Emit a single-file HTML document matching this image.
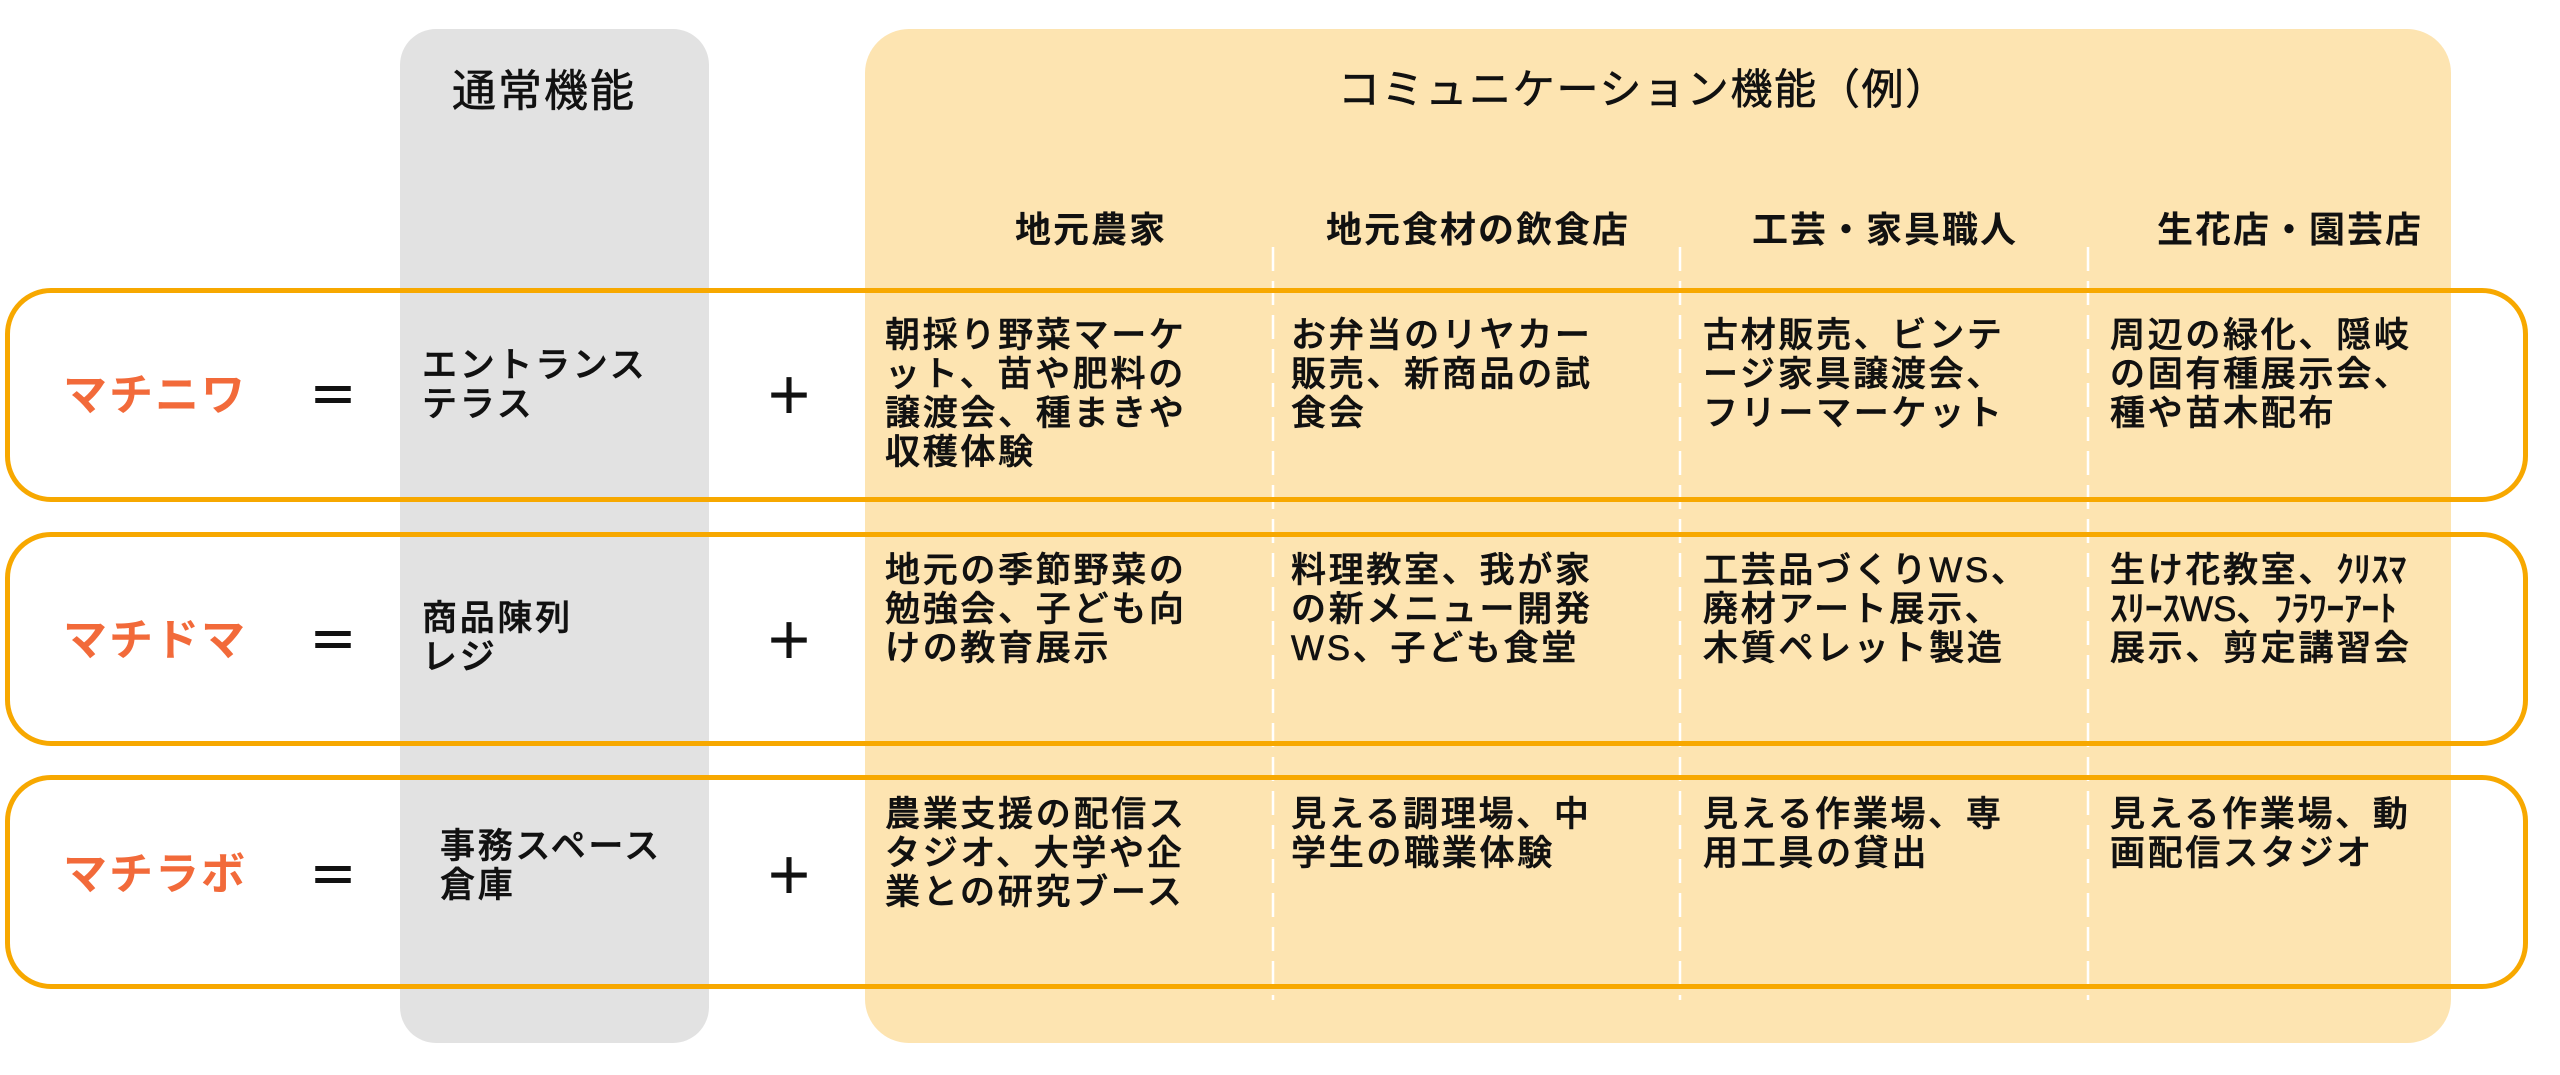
<!DOCTYPE html>
<html><head><meta charset="utf-8"><style>
*{margin:0;padding:0;box-sizing:border-box}
body{width:2560px;height:1075px;background:#fff;position:relative;overflow:hidden;font-family:"Liberation Sans","Noto Sans CJK JP",sans-serif;color:#111}
.a{position:absolute;white-space:nowrap}
.gray{left:400px;top:29px;width:309px;height:1014px;background:#e2e2e2;border-radius:36px}
.org{left:865px;top:29px;width:1586px;height:1014px;background:#fde4b1;border-radius:44px}
.row{position:absolute;left:5px;width:2523px;border:5px solid #f7a800;border-radius:46px}
.t{font-size:35px;letter-spacing:2.7px;line-height:39px;font-weight:500;-webkit-text-stroke:0.6px #111}
.h{font-size:36px;font-weight:bold;letter-spacing:2px;line-height:40px}
.big{font-size:44px;letter-spacing:2px;line-height:48px;-webkit-text-stroke:0.6px #111}
.lab{font-size:44px;color:#f26a3a;letter-spacing:2px;line-height:48px;font-weight:bold}
.op{font-size:50px;line-height:50px;font-weight:bold}
</style></head><body>
<div class="a gray"></div>
<div class="a org"></div>
<svg class="a" style="left:0;top:0" width="2560" height="1075">
<g stroke="#fff" stroke-width="2.5" stroke-dasharray="24,10">
<line x1="1273" y1="247" x2="1273" y2="1000"/>
<line x1="1680" y1="247" x2="1680" y2="1000"/>
<line x1="2088" y1="247" x2="2088" y2="1000"/>
</g></svg>
<div class="row" style="top:288px;height:214px"></div>
<div class="row" style="top:532px;height:214px"></div>
<div class="row" style="top:775px;height:214px"></div>

<div class="a big" style="left:452px;top:68px">通常機能</div>
<div class="a big" style="left:1338px;top:66px;font-size:42px;letter-spacing:1.7px">コミュニケーション機能（例）</div>

<div class="a h" style="left:1015px;top:210px">地元農家</div>
<div class="a h" style="left:1326px;top:210px">地元食材の飲食店</div>
<div class="a h" style="left:1752px;top:210px">工芸・家具職人</div>
<div class="a h" style="left:2157px;top:210px">生花店・園芸店</div>

<div class="a lab" style="left:63px;top:372px">マチニワ</div>
<div class="a lab" style="left:63px;top:617px">マチドマ</div>
<div class="a lab" style="left:63px;top:851px">マチラボ</div>
<div class="a op" style="left:308px;top:372px">＝</div>
<div class="a op" style="left:308px;top:617px">＝</div>
<div class="a op" style="left:308px;top:852px">＝</div>
<div class="a op" style="left:764px;top:372px">＋</div>
<div class="a op" style="left:764px;top:617px">＋</div>
<div class="a op" style="left:764px;top:852px">＋</div>

<div class="a t" style="left:422px;top:346px">エントランス<br>テラス</div>
<div class="a t" style="left:422px;top:599px">商品陳列<br>レジ</div>
<div class="a t" style="left:440px;top:827px">事務スペース<br>倉庫</div>

<div class="a t" style="left:885px;top:316px">朝採り野菜マーケ<br>ット、苗や肥料の<br>譲渡会、種まきや<br>収穫体験</div>
<div class="a t" style="left:1291px;top:316px">お弁当のリヤカー<br>販売、新商品の試<br>食会</div>
<div class="a t" style="left:1703px;top:316px">古材販売、ビンテ<br>ージ家具譲渡会、<br>フリーマーケット</div>
<div class="a t" style="left:2110px;top:316px">周辺の緑化、隠岐<br>の固有種展示会、<br>種や苗木配布</div>

<div class="a t" style="left:885px;top:551px">地元の季節野菜の<br>勉強会、子ども向<br>けの教育展示</div>
<div class="a t" style="left:1291px;top:551px">料理教室、我が家<br>の新メニュー開発<br>WS、子ども食堂</div>
<div class="a t" style="left:1703px;top:551px">工芸品づくりWS、<br>廃材アート展示、<br>木質ペレット製造</div>
<div class="a t" style="left:2110px;top:551px">生け花教室、<span style="letter-spacing:0">ｸﾘｽﾏ</span><br><span style="letter-spacing:0">ｽﾘｰｽWS</span>、<span style="letter-spacing:0">ﾌﾗﾜｰｱｰﾄ</span><br>展示、剪定講習会</div>

<div class="a t" style="left:885px;top:795px">農業支援の配信ス<br>タジオ、大学や企<br>業との研究ブース</div>
<div class="a t" style="left:1291px;top:795px">見える調理場、中<br>学生の職業体験</div>
<div class="a t" style="left:1703px;top:795px">見える作業場、専<br>用工具の貸出</div>
<div class="a t" style="left:2110px;top:795px">見える作業場、動<br>画配信スタジオ</div>
</body></html>
